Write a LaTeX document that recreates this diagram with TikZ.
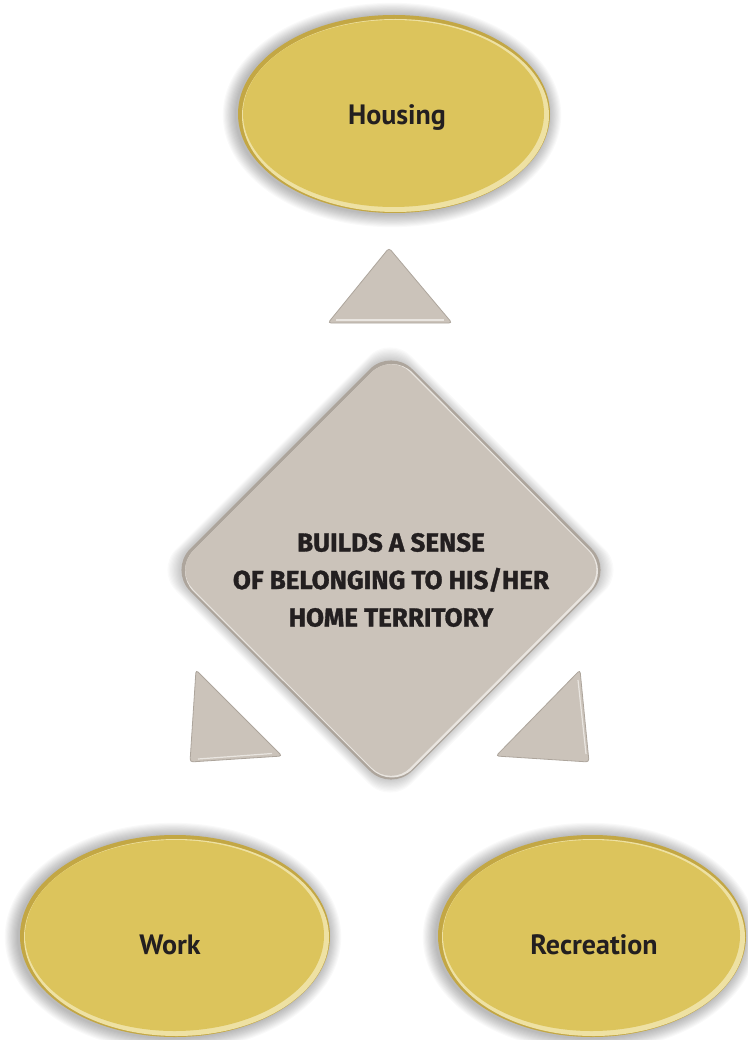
\documentclass[tikz,border=0pt]{standalone}
\usepackage{fontspec}
\usetikzlibrary{calc}
\setmainfont{PT Sans}
\newfontfamily\capsfont{Fira Sans}[BoldFeatures={FakeBold=1.2}]
\definecolor{gold}{HTML}{DCC45C}
\definecolor{golddark}{HTML}{C3A744}
\definecolor{goldlight}{HTML}{EEE1A3}
\definecolor{stone}{HTML}{CBC3BA}
\definecolor{stonedark}{HTML}{ADA59C}
\definecolor{stonelight}{HTML}{E9E5E0}
\definecolor{inkk}{HTML}{231F20}
\newcommand\goldoval[4]{%
  \foreach \k in {1,...,12} {
    \fill[black,opacity=0.022] (#1-2,#2+1) ellipse [x radius=#3+\k*1.1, y radius=#4+\k*1.1];
  }
  \fill[golddark] (#1,#2) ellipse [x radius=#3, y radius=#4];
  \fill[goldlight] (#1+1.5,#2+1.5) ellipse [x radius=#3-2.5, y radius=#4-2.5];
  \fill[gold] (#1-0.5,#2-0.5) ellipse [x radius=#3-5.5, y radius=#4-5.5];
}
\tikzset{
  ovaltext/.style={font=\bfseries\fontsize{28}{30}\selectfont, text=inkk},
  tri/.style={fill=stone, draw=stonedark, line width=0.8pt, rounded corners=3pt},
  trilight/.style={draw=stonelight, line width=1.2pt, rounded corners=3pt},
}
\begin{document}
\begin{tikzpicture}[x=1pt,y=-1pt]
\useasboundingbox[fill=white] (0,0) rectangle (747,1040);

% ovals
\goldoval{394}{114}{156}{99}
\goldoval{175}{936}{155}{101}
\goldoval{592}{936}{154}{101}
\node[ovaltext] (housing) at (397,118) {Housing};
\node[ovaltext] (work) at (170,945) {Work};
\node[ovaltext] (recreation) at (594,945) {Recreation};

% central diamond
\coordinate (dT) at (391,348);
\coordinate (dR) at (613,570);
\coordinate (dB) at (391,792);
\coordinate (dL) at (169,570);
\foreach \k in {1,...,10} {
  \fill[black,opacity=0.02,rounded corners=30pt]
    ($(dT)+(-1,-\k*1.3)$) -- ($(dR)+(\k*1.3,0)$) -- ($(dB)+(-1,\k*1.3)$) -- ($(dL)+(-\k*1.3-1,0)$) -- cycle;
}
\fill[stonedark,rounded corners=30pt] (dT) -- (dR) -- (dB) -- (dL) -- cycle;
\fill[stonelight,rounded corners=29pt] ($(dT)+(1,4)$) -- ($(dR)+(-3,1)$) -- ($(dB)+(1,-2.5)$) -- ($(dL)+(4,1)$) -- cycle;
\fill[stone,rounded corners=27pt] ($(dT)+(0,5)$) -- ($(dR)+(-5.5,0)$) -- ($(dB)+(0,-5)$) -- ($(dL)+(5,0)$) -- cycle;
\node[font=\capsfont\bfseries\fontsize{26}{37.5}\selectfont, text=inkk, align=center]
  (belong) at (391,580) {BUILDS A SENSE\\OF BELONGING TO HIS/HER\\HOME TERRITORY};

% triangles (pointers)
\coordinate (tA) at (389,248);
\coordinate (tB) at (452,323);
\coordinate (tC) at (328,323);
\filldraw[tri] (tA) -- (tB) -- (tC) -- cycle;
\draw[trilight] ($(tC)+(8,-3)$) -- ($(tB)+(-8,-3)$);

\coordinate (lA) at (196,670);
\coordinate (lB) at (282,756);
\coordinate (lC) at (190,762);
\filldraw[tri] (lA) -- (lB) -- (lC) -- cycle;
\draw[trilight] ($(lC)+(8,-3)$) -- ($(lB)+(-10,-2.5)$);

\coordinate (rA) at (580,670);
\coordinate (rB) at (589,762);
\coordinate (rC) at (496,756);
\filldraw[tri] (rA) -- (rB) -- (rC) -- cycle;
\draw[trilight] ($(rA)+(-2,10)$) -- ($(rB)+(-3,-8)$);
\end{tikzpicture}
\end{document}
